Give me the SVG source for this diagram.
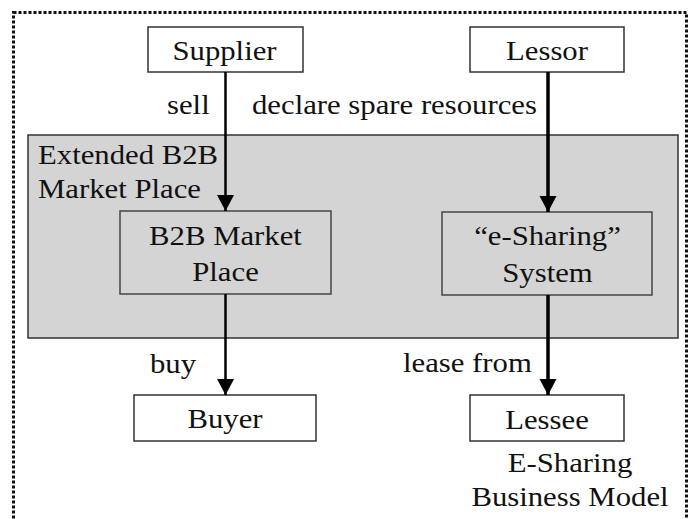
<svg xmlns="http://www.w3.org/2000/svg" width="693" height="519" viewBox="0 0 693 519">
<defs>
<marker id="ah" markerUnits="userSpaceOnUse" markerWidth="17" markerHeight="18" refX="16" refY="8.5" orient="auto">
<path d="M0,0 L16,8.5 L0,17 Z" fill="#000"/>
</marker>
</defs>
<style>
text{font-family:"Liberation Serif","Times New Roman",serif;font-size:26.5px;fill:#111}
.box{fill:#fff;stroke:#333;stroke-width:1.5}
.ibox{fill:none;stroke:#444;stroke-width:1.5}
.c{text-anchor:middle}
.conn{stroke:#000;fill:none}
</style>
<rect width="693" height="519" fill="#fff"/>
<rect x="13.5" y="12.5" width="673" height="520" fill="none" stroke="#111" stroke-width="3" stroke-dasharray="3,2"/>
<g id="extended-b2b">
<rect x="28" y="135" width="650" height="203" fill="#d4d4d4" stroke="#333" stroke-width="1.5"/>
<text transform="translate(38,164) scale(1.16,1)">Extended B2B</text>
<text transform="translate(38,198) scale(1.16,1)">Market Place</text>
</g>
<g id="supplier">
<rect class="box" x="148" y="27" width="155" height="45"/>
<text class="c" transform="translate(224.5,60) scale(1.16,1)">Supplier</text>
</g>
<g id="lessor">
<rect class="box" x="470" y="27" width="154" height="45"/>
<text class="c" transform="translate(547,60) scale(1.16,1)">Lessor</text>
</g>
<g id="b2b">
<rect class="ibox" x="120" y="211" width="211" height="83"/>
<text class="c" transform="translate(225.5,245) scale(1.16,1)">B2B Market</text>
<text class="c" transform="translate(225.5,281) scale(1.16,1)">Place</text>
</g>
<g id="esharing">
<rect class="ibox" x="442" y="212" width="210" height="83"/>
<text class="c" transform="translate(547.5,245) scale(1.16,1)">“e-Sharing”</text>
<text class="c" transform="translate(547.5,282) scale(1.16,1)">System</text>
</g>
<g id="buyer">
<rect class="box" x="134" y="395" width="182" height="46"/>
<text class="c" transform="translate(225,428) scale(1.16,1)">Buyer</text>
</g>
<g id="lessee">
<rect class="box" x="470" y="395" width="154" height="46"/>
<text class="c" transform="translate(547,429) scale(1.16,1)">Lessee</text>
</g>
<g id="connectors">
<line class="conn" x1="225.5" y1="72" x2="225.5" y2="211" stroke-width="2.5" marker-end="url(#ah)"/>
<line class="conn" x1="548" y1="72" x2="548" y2="212" stroke-width="3.5" marker-end="url(#ah)"/>
<line class="conn" x1="225.5" y1="294" x2="225.5" y2="395" stroke-width="2.5" marker-end="url(#ah)"/>
<line class="conn" x1="548" y1="295" x2="548" y2="395" stroke-width="3.5" marker-end="url(#ah)"/>
<text transform="translate(167,114) scale(1.16,1)">sell</text>
<text transform="translate(252,114) scale(1.16,1)">declare spare resources</text>
<text transform="translate(150,373) scale(1.16,1)">buy</text>
<text transform="translate(403,372) scale(1.16,1)">lease from</text>
</g>
<g id="caption">
<text class="c" transform="translate(570,472) scale(1.16,1)">E-Sharing</text>
<text class="c" transform="translate(570,506) scale(1.16,1)">Business Model</text>
</g>
</svg>
